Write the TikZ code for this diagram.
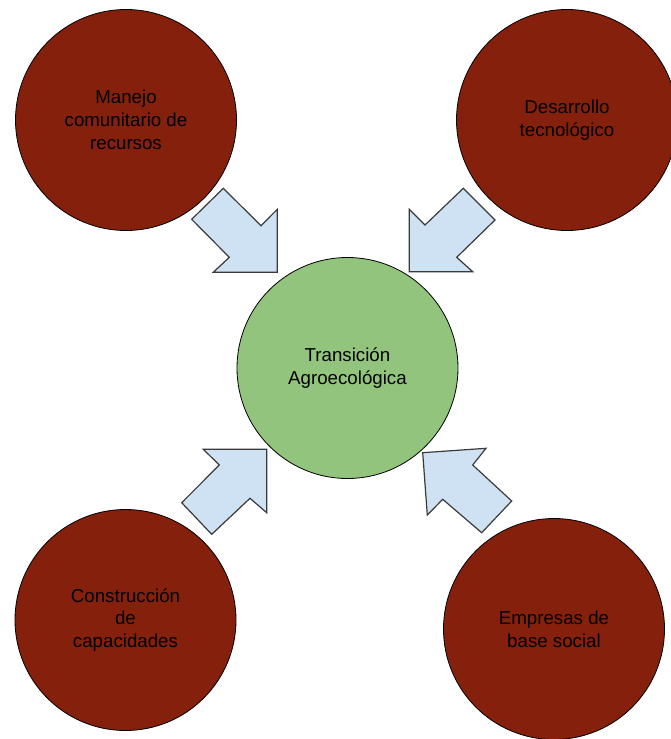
\documentclass[tikz,border=0pt]{standalone}
\usepackage{fontspec}
\setmainfont{Liberation Sans}
\definecolor{berry}{HTML}{85200C}
\definecolor{leaf}{HTML}{93C47D}
\definecolor{pale}{HTML}{CFE2F3}
\definecolor{edge}{HTML}{3A3A3A}
\begin{document}
\begin{tikzpicture}[x=1pt,y=-1pt,
  topic/.style={circle,draw=black,line width=0.8pt,fill=berry,minimum size=221pt,inner sep=0pt,
    align=center,text=black,font=\fontsize{18.7}{22.8}\selectfont},
  core/.style={topic,fill=leaf},
  blockarrow/.style={draw=edge,fill=pale,line width=1.2pt,line join=miter}]
\useasboundingbox (0,0) rectangle (670,739);
\node[topic] (tl) at (126,120) {Manejo\\comunitario de\\recursos};
\node[topic] (tr) at (567,120) {Desarrollo\\tecnológico};
\node[topic] (bl) at (125.5,620) {Construcción\\de\\capacidades};
\node[topic] (br) at (554,629) {Empresas de\\base social};
\node[core,minimum size=221pt] (c) at (347.5,368) {Transición\\Agroecológica};
% block arrows
\draw[blockarrow] (223.3,188.3) -- (261,225.7) -- (277.3,209.3) -- (277.3,272.3) -- (213.3,272.3) -- (229.3,257.3) -- (191.7,219.3) -- cycle;
\draw[blockarrow] (463.3,188.3) -- (495,220) -- (456.7,257.3) -- (472.7,271.7) -- (409.3,271.7) -- (409.3,209.3) -- (425,225) -- cycle;
\draw[blockarrow] (203.3,449.3) -- (266.7,449.3) -- (266.7,512.7) -- (250,498.3) -- (211.7,534.3) -- (181.7,502.7) -- (219.3,465) -- cycle;
\draw[blockarrow] (422.7,452.7) -- (486,448.3) -- (472.7,465) -- (511.7,501) -- (481.7,532.7) -- (442.7,499.3) -- (427.3,515) -- cycle;
\end{tikzpicture}
\end{document}
